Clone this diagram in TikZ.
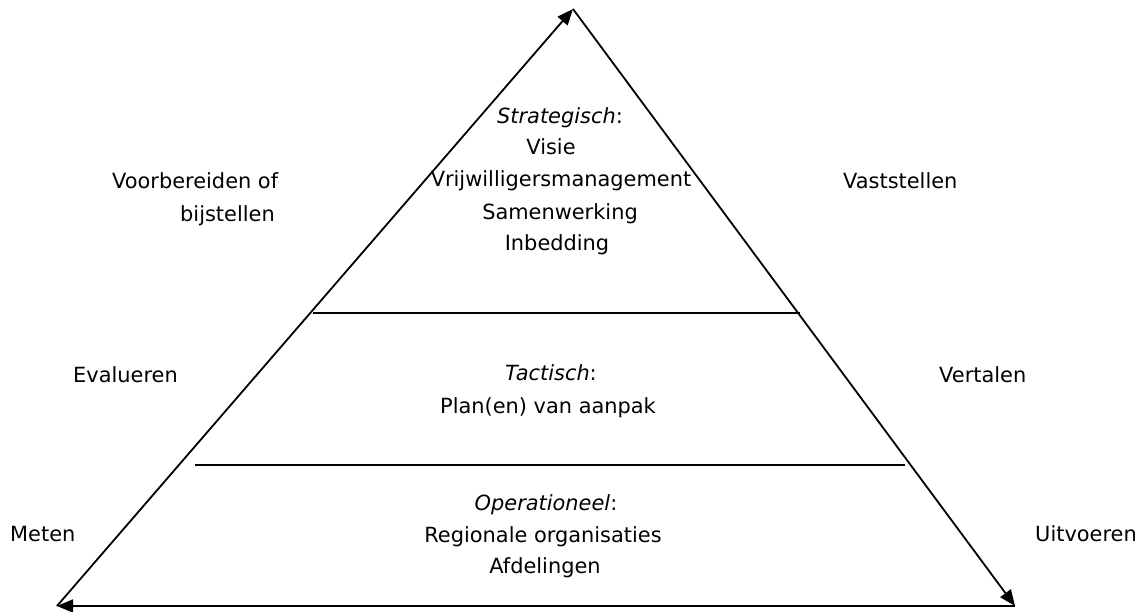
\documentclass[tikz,border=0pt]{standalone}
\usepackage{fontspec}
\setmainfont{DejaVu Sans}
\usetikzlibrary{arrows.meta}
\begin{document}
\begin{tikzpicture}[x=1pt,y=-1pt,
  edge/.style={line width=1.8pt},
  arr/.style={edge,-{Triangle[length=16pt,width=13pt]}},
  lbl/.style={inner sep=0pt,font=\fontsize{20.9}{31}\selectfont}]
\useasboundingbox (0,0) rectangle (1139,612);
\coordinate (A) at (573,9);
\coordinate (BL) at (57,606);
\coordinate (BR) at (1015,606);
\coordinate (h1l) at (313,313);
\coordinate (h1r) at (800,313);
\coordinate (h2l) at (195,465);
\coordinate (h2r) at (905,465);
\draw[arr] (BL) -- (A);
\draw[arr] (A) -- (BR);
\draw[arr] (BR) -- (BL);
\draw[edge] (h1l) -- (h1r);
\draw[edge] (h2l) -- (h2r);
% strategic
\node[lbl,anchor=base] (s0) at (560,124) {\textit{Strategisch}:};
\node[lbl,anchor=base] (s1) at (551,155) {Visie};
\node[lbl,anchor=base] (s2) at (561,187) {Vrijwilligersmanagement};
\node[lbl,anchor=base] (s3) at (560,219) {Samenwerking};
\node[lbl,anchor=base] (s4) at (557,251) {Inbedding};
% tactical
\node[lbl,anchor=base] (t0) at (551,380) {\textit{Tactisch}:};
\node[lbl,anchor=base] (t1) at (548,413) {Plan(en) van aanpak};
% operational
\node[lbl,anchor=base] (o0) at (546,510) {\textit{Operationeel}:};
\node[lbl,anchor=base] (o1) at (543,542) {Regionale organisaties};
\node[lbl,anchor=base] (o2) at (545,573) {Afdelingen};
% side labels
\node[lbl,anchor=base west] (l1) at (112,189) {Voorbereiden of};
\node[lbl,anchor=base west] (l2) at (180,222) {bijstellen};
\node[lbl,anchor=base west] (l3) at (73,382) {Evalueren};
\node[lbl,anchor=base west] (l4) at (10,541) {Meten};
\node[lbl,anchor=base west] (r1) at (843,189) {Vaststellen};
\node[lbl,anchor=base west] (r2) at (939,382) {Vertalen};
\node[lbl,anchor=base west] (r3) at (1035,541) {Uitvoeren};
\end{tikzpicture}
\end{document}
